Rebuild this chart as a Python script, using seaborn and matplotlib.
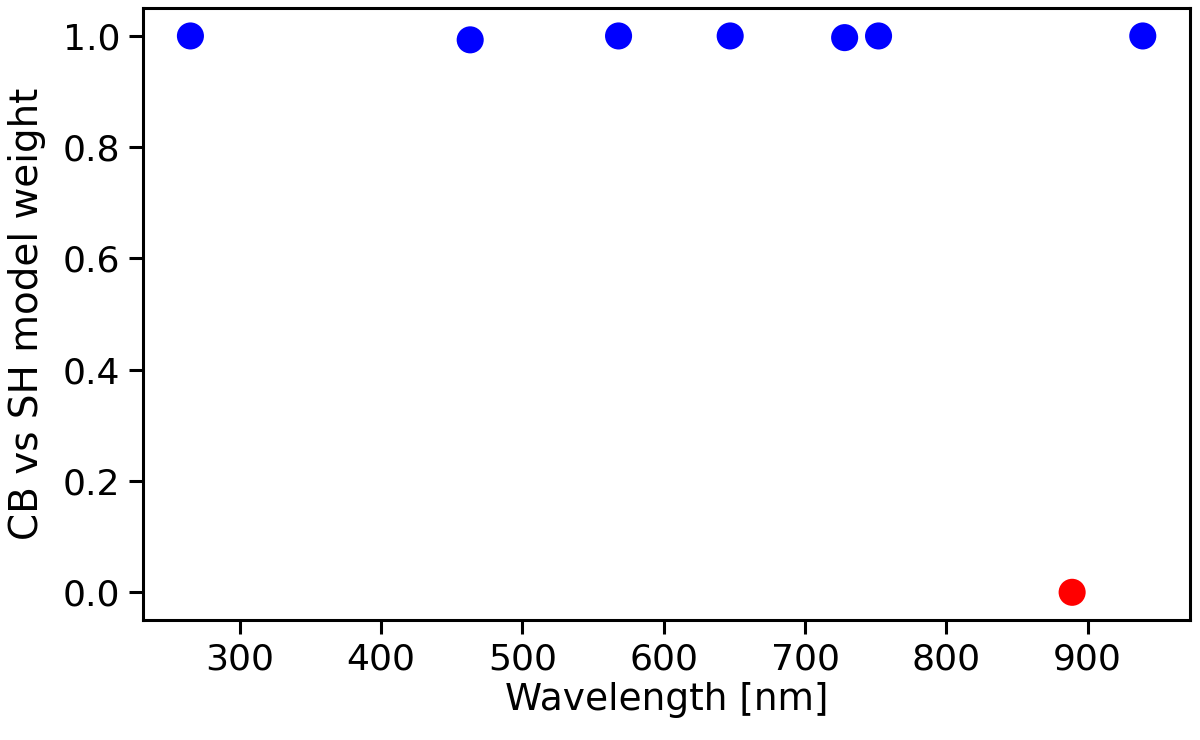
import numpy as np
import pandas as pd
import seaborn as sns
import matplotlib.pyplot as plt

# wavelengths [nm] and model weights
wavelength = [265, 463, 568, 647, 728, 752, 939, 889]
weight = [1.0, 0.993, 1.0, 1.0, 0.997, 1.0, 1.0, 0.0]
model = ['CB', 'CB', 'CB', 'CB', 'CB', 'CB', 'CB', 'SH']

df = pd.DataFrame({'wavelength': wavelength, 'weight': weight, 'model': model})

sns.set_style('ticks')
plt.rcParams['font.family'] = ['DejaVu Sans']
plt.rcParams['text.color'] = 'black'
plt.rcParams['axes.labelcolor'] = 'black'
plt.rcParams['xtick.color'] = 'black'
plt.rcParams['ytick.color'] = 'black'

fig = plt.figure(figsize=(12, 7.4), dpi=100)
ax = fig.add_axes([0.119, 0.162, 0.873, 0.827])

sns.scatterplot(data=df, x='wavelength', y='weight', hue='model',
                palette={'CB': 'blue', 'SH': 'red'}, s=380, edgecolor='none',
                legend=False, ax=ax)

ax.set_xticks([300, 400, 500, 600, 700, 800, 900])
ax.set_yticks([0.0, 0.2, 0.4, 0.6, 0.8, 1.0])
ax.set_xlabel('Wavelength [nm]', fontsize=27, labelpad=4)
ax.set_ylabel('CB vs SH model weight', fontsize=28, labelpad=12)
ax.tick_params(labelsize=26, length=10, width=2.2, pad=6)
for sp in ax.spines.values():
    sp.set_linewidth(2.2)
    sp.set_color('black')

fig.savefig('out.png', dpi=100)
